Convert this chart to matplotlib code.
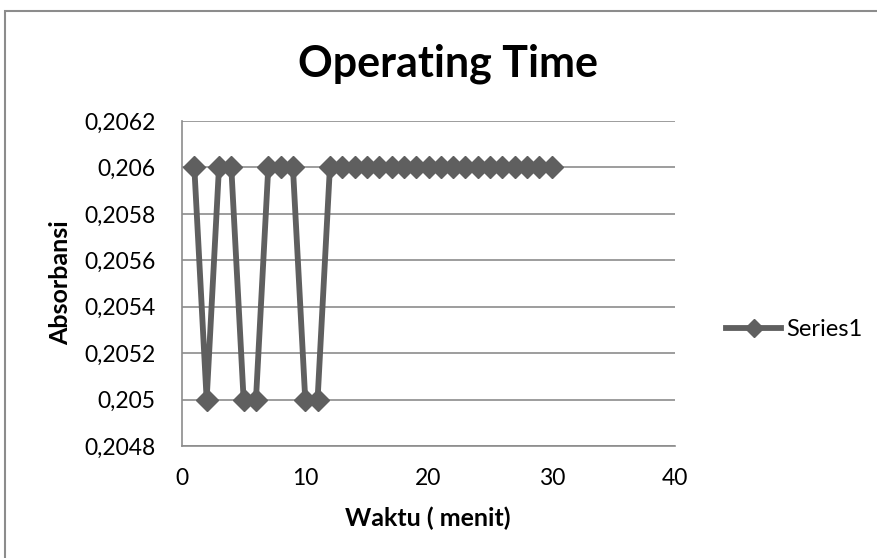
import matplotlib
matplotlib.use("Agg")
import matplotlib.pyplot as plt
from matplotlib.patches import Rectangle
from matplotlib.lines import Line2D

plt.rcParams['font.family'] = ['Lato', 'DejaVu Sans']

# Absorbance readings per minute
minutes = list(range(1, 31))
absorbance = [0.206, 0.205, 0.206, 0.206, 0.205, 0.205, 0.206, 0.206, 0.206, 0.205,
              0.205] + [0.206] * 19

y_ticks = [0.2048, 0.2050, 0.2052, 0.2054, 0.2056, 0.2058, 0.2060, 0.2062]
y_tick_labels = ["0,2048", "0,205", "0,2052", "0,2054", "0,2056", "0,2058", "0,206", "0,2062"]
x_ticks = [0, 10, 20, 30, 40]

W, H = 878, 558
fig = plt.figure(figsize=(W / 100, H / 100), dpi=100)
ax = fig.add_axes([182 / W, 1 - 446 / H, (675 - 182) / W, (446 - 121) / H])

line_color = "#5f5f5f"
grid_color = "#8c8c8c"

ax.plot(minutes, absorbance, color=line_color, lw=4.2, marker="D", ms=11,
        markeredgecolor=line_color, markerfacecolor=line_color, clip_on=False, zorder=3)

ax.set_xlim(0, 40)
ax.set_ylim(0.2048, 0.2062)
ax.set_xticks(x_ticks)
ax.set_xticklabels([str(t) for t in x_ticks])
ax.set_yticks(y_ticks)
ax.set_yticklabels(y_tick_labels)
ax.tick_params(axis="both", length=0, labelsize=16.5, colors="black")
ax.tick_params(axis="x", pad=16)
ax.tick_params(axis="y", pad=19)

ax.yaxis.grid(True, color=grid_color, lw=1.2)
ax.set_axisbelow(True)
for s in ["top", "right"]:
    ax.spines[s].set_visible(False)
for s in ["left", "bottom"]:
    ax.spines[s].set_color(grid_color)
    ax.spines[s].set_linewidth(1.2)

ax.set_xlabel("Waktu ( menit)", fontsize=18, fontweight="bold")
ax.xaxis.set_label_coords((428 - 182) / (675 - 182), (446 - 518) / (446 - 121))
ax.xaxis.label.set_va("center")
ax.set_ylabel("Absorbansi", fontsize=18, fontweight="bold")
ax.yaxis.set_label_coords((61 - 182) / (675 - 182), (446 - 283) / (446 - 121))
ax.yaxis.label.set_va("center")

fig.text(448 / W, 1 - 77 / H, "Operating Time", fontsize=31, fontweight="bold",
         ha="center", va="baseline")

handle = Line2D([], [], color=line_color, lw=4.2, marker="D", ms=9)
fig.legend([handle], ["Series1"], loc="center left",
           bbox_to_anchor=(726 / W, 1 - 330 / H), frameon=False, fontsize=17,
           handlelength=2.35, handletextpad=0.2, borderpad=0, borderaxespad=0)

# Outer chart frame
fig.add_artist(Rectangle((5 / W, -0.05), 1.0, 1 - 11 / H + 0.05,
                         transform=fig.transFigure, fill=False,
                         edgecolor="#8c8c8c", lw=1.5))

fig.savefig("out.png", dpi=100)
